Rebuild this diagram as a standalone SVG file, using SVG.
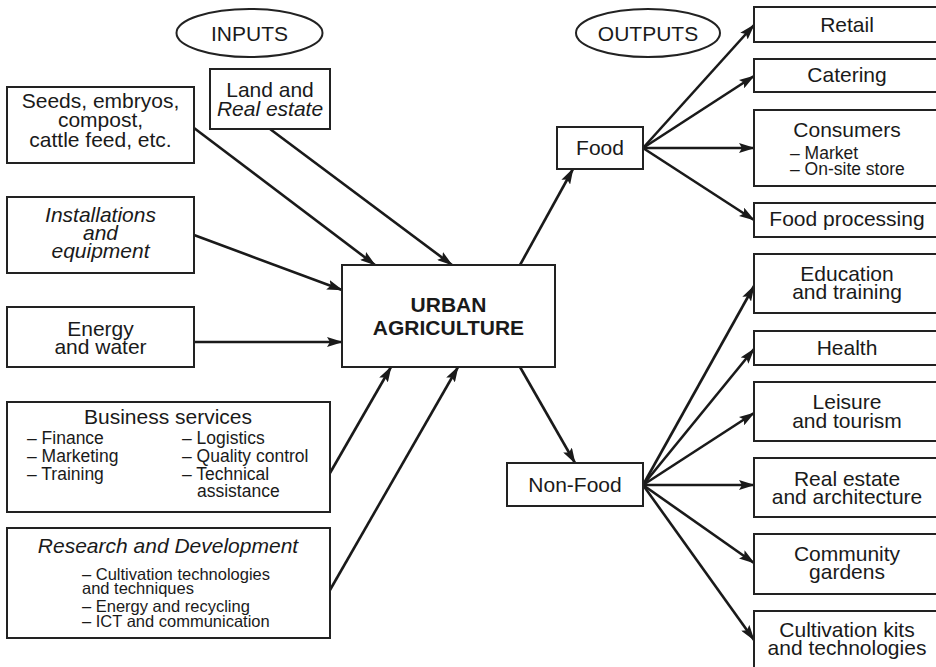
<svg xmlns="http://www.w3.org/2000/svg" width="936" height="667" viewBox="0 0 936 667">
<defs>
<style>
.box{fill:#fff;stroke:#222;stroke-width:2}
.t{font-family:"Liberation Sans",Arial,sans-serif;font-size:21px;fill:#1a1a1a;text-anchor:middle}
.s{font-family:"Liberation Sans",Arial,sans-serif;font-size:17.5px;fill:#1a1a1a}
.r{font-family:"Liberation Sans",Arial,sans-serif;font-size:16.5px;fill:#1a1a1a}
.c{font-family:"Liberation Sans",Arial,sans-serif;font-size:17.5px;fill:#1a1a1a}
.i{font-style:italic}
.b{font-weight:bold}
.ln{stroke:#1a1a1a;stroke-width:2.6;fill:none;marker-end:url(#ah)}
</style>
<marker id="ah" viewBox="0 0 16 10" refX="15" refY="5" markerWidth="16" markerHeight="10" markerUnits="userSpaceOnUse" orient="auto">
<path d="M0,0 L16,5 L0,10 L3,5 z" fill="#1a1a1a"/>
</marker>
</defs>

<g id="connectors">
<line class="ln" x1="194" y1="128" x2="375" y2="265"/>
<line class="ln" x1="270" y1="129" x2="452" y2="265"/>
<line class="ln" x1="194" y1="235" x2="342" y2="290"/>
<line class="ln" x1="194" y1="342" x2="342" y2="342"/>
<line class="ln" x1="330" y1="473" x2="391" y2="367"/>
<line class="ln" x1="330" y1="590" x2="458" y2="367"/>
<line class="ln" x1="520" y1="265" x2="573" y2="169"/>
<line class="ln" x1="520" y1="367" x2="575" y2="463"/>
<line class="ln" x1="643" y1="148" x2="754" y2="25"/>
<line class="ln" x1="643" y1="148" x2="754" y2="76"/>
<line class="ln" x1="643" y1="148" x2="754" y2="148"/>
<line class="ln" x1="643" y1="148" x2="754" y2="220"/>
<line class="ln" x1="643" y1="485" x2="754" y2="286"/>
<line class="ln" x1="643" y1="485" x2="754" y2="349"/>
<line class="ln" x1="643" y1="485" x2="754" y2="413"/>
<line class="ln" x1="643" y1="485" x2="754" y2="485"/>
<line class="ln" x1="643" y1="485" x2="754" y2="563"/>
<line class="ln" x1="643" y1="485" x2="754" y2="640"/>
</g>

<g id="inputs-label">
<ellipse class="box" cx="249.5" cy="33" rx="73" ry="24"/>
<text class="t" x="249.5" y="40.5">INPUTS</text>
</g>
<g id="outputs-label">
<ellipse class="box" cx="648" cy="33" rx="72" ry="24"/>
<text class="t" x="648" y="40.5">OUTPUTS</text>
</g>

<g id="seeds">
<rect class="box" x="7" y="87" width="187" height="76"/>
<text class="t" x="100.5" y="108">Seeds, embryos,</text>
<text class="t" x="100.5" y="127">compost,</text>
<text class="t" x="100.5" y="147">cattle feed, etc.</text>
</g>
<g id="land">
<rect class="box" x="210" y="69" width="120" height="60"/>
<text class="t" x="270" y="97">Land and</text>
<text class="t i" x="270" y="116">Real estate</text>
</g>
<g id="installations">
<rect class="box" x="7" y="197" width="187" height="76"/>
<text class="t i" x="100.5" y="222">Installations</text>
<text class="t i" x="100.5" y="240">and</text>
<text class="t i" x="100.5" y="258">equipment</text>
</g>
<g id="energy">
<rect class="box" x="7" y="307" width="187" height="60"/>
<text class="t" x="100.5" y="336">Energy</text>
<text class="t" x="100.5" y="354">and water</text>
</g>
<g id="business">
<rect class="box" x="7" y="402" width="323" height="110"/>
<text class="t" x="168" y="424">Business services</text>
<text class="s" x="27" y="444">– Finance</text>
<text class="s" x="27" y="462">– Marketing</text>
<text class="s" x="27" y="480">– Training</text>
<text class="s" x="182" y="444">– Logistics</text>
<text class="s" x="182" y="462">– Quality control</text>
<text class="s" x="182" y="480">– Technical</text>
<text class="s" x="197" y="497">assistance</text>
</g>
<g id="research">
<rect class="box" x="7" y="528" width="323" height="110"/>
<text class="t i" x="168" y="553">Research and Development</text>
<text class="r" x="82" y="580">– Cultivation technologies</text>
<text class="r" x="82" y="594">and techniques</text>
<text class="r" x="82" y="612">– Energy and recycling</text>
<text class="r" x="82" y="627">– ICT and communication</text>
</g>

<g id="urban">
<rect class="box" x="342" y="265" width="213" height="102"/>
<text class="t b" x="448.5" y="312">URBAN</text>
<text class="t b" x="448.5" y="335">AGRICULTURE</text>
</g>
<g id="food">
<rect class="box" x="557" y="127" width="86" height="42"/>
<text class="t" x="600" y="155">Food</text>
</g>
<g id="nonfood">
<rect class="box" x="507" y="463" width="136" height="43"/>
<text class="t" x="575" y="492">Non-Food</text>
</g>

<g id="retail">
<rect class="box" x="754" y="7" width="186" height="35"/>
<text class="t" x="847" y="32">Retail</text>
</g>
<g id="catering">
<rect class="box" x="754" y="59" width="186" height="33"/>
<text class="t" x="847" y="82">Catering</text>
</g>
<g id="consumers">
<rect class="box" x="754" y="110" width="186" height="76"/>
<text class="t" x="847" y="137">Consumers</text>
<text class="c" x="790" y="159">– Market</text>
<text class="c" x="790" y="175">– On-site store</text>
</g>
<g id="foodprocessing">
<rect class="box" x="754" y="203" width="186" height="34"/>
<text class="t" x="847" y="226">Food processing</text>
</g>
<g id="education">
<rect class="box" x="754" y="254" width="186" height="59"/>
<text class="t" x="847" y="281">Education</text>
<text class="t" x="847" y="299">and training</text>
</g>
<g id="health">
<rect class="box" x="754" y="331" width="186" height="34"/>
<text class="t" x="847" y="355">Health</text>
</g>
<g id="leisure">
<rect class="box" x="754" y="382" width="186" height="59"/>
<text class="t" x="847" y="409">Leisure</text>
<text class="t" x="847" y="428">and tourism</text>
</g>
<g id="realestate">
<rect class="box" x="754" y="458" width="186" height="59"/>
<text class="t" x="847" y="486">Real estate</text>
<text class="t" x="847" y="504">and architecture</text>
</g>
<g id="community">
<rect class="box" x="754" y="534" width="186" height="60"/>
<text class="t" x="847" y="561">Community</text>
<text class="t" x="847" y="579">gardens</text>
</g>
<g id="cultivation">
<rect class="box" x="754" y="611" width="186" height="62"/>
<text class="t" x="847" y="637">Cultivation kits</text>
<text class="t" x="847" y="655">and technologies</text>
</g>
</svg>
